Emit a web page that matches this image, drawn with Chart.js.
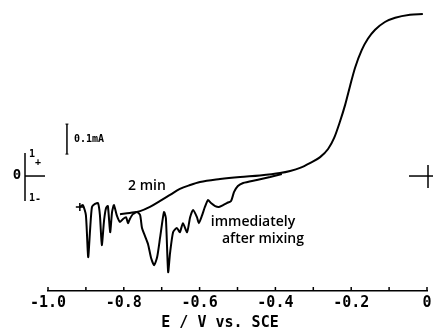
<!DOCTYPE html>
<html>
<head>
<meta charset="utf-8">
<script src="https://cdn.jsdelivr.net/npm/chart.js@4.4.0/dist/chart.umd.min.js"></script>
<style>
  html, body { margin: 0; padding: 0; background: #fff; }
  #cv { display: block; }
</style>
</head>
<body>
<canvas id="cv" width="435" height="334"></canvas>
<script>
// ==================================================
// DATOS - potencial (V vs. SCE) y corriente (mA)
// ==================================================
const e2min = [-0.810, -0.784, -0.757, -0.731, -0.704, -0.678, -0.652, -0.625, -0.599, -0.546,
               -0.493, -0.441, -0.388, -0.361, -0.335, -0.309, -0.282, -0.261, -0.245, -0.230,
               -0.216, -0.203, -0.190, -0.172, -0.156, -0.137, -0.111, -0.084, -0.045, -0.011];
const i2min = [-0.127, -0.123, -0.117, -0.103, -0.083, -0.063, -0.043, -0.030, -0.020, -0.010,
               -0.003, 0.002, 0.010, 0.017, 0.027, 0.043, 0.063, 0.090, 0.127, 0.180,
               0.237, 0.300, 0.360, 0.420, 0.457, 0.487, 0.513, 0.527, 0.537, 0.540];

const eMix = [-0.916, -0.908, -0.900, -0.894, -0.889, -0.884, -0.876, -0.868, -0.863, -0.858,
              -0.852, -0.847, -0.842, -0.836, -0.831, -0.826, -0.818, -0.810, -0.802, -0.794,
              -0.789, -0.784, -0.776, -0.765, -0.757, -0.752, -0.744, -0.736, -0.728, -0.720,
              -0.712, -0.704, -0.694, -0.689, -0.683, -0.678, -0.670, -0.660, -0.652, -0.644,
              -0.633, -0.625, -0.617, -0.607, -0.602, -0.594, -0.586, -0.578, -0.570, -0.559,
              -0.549, -0.538, -0.528, -0.517, -0.509, -0.499, -0.485, -0.449, -0.414, -0.383];
const iMix = [-0.103, -0.097, -0.130, -0.270, -0.180, -0.103, -0.093, -0.090, -0.130, -0.230,
              -0.147, -0.107, -0.100, -0.187, -0.120, -0.097, -0.133, -0.153, -0.143, -0.137,
              -0.157, -0.143, -0.127, -0.120, -0.130, -0.173, -0.200, -0.227, -0.273, -0.297,
              -0.270, -0.203, -0.120, -0.140, -0.320, -0.257, -0.187, -0.173, -0.187, -0.157,
              -0.187, -0.137, -0.113, -0.137, -0.157, -0.133, -0.103, -0.080, -0.090, -0.100,
              -0.103, -0.097, -0.090, -0.083, -0.053, -0.033, -0.023, -0.013, -0.003, 0.007];

// etiquetas del eje x (solo cada 0.2 V)
const xTickLabels = ['-1.0', '-0.8', '-0.6', '-0.4', '-0.2', '0'];

function toPoints(xs, ys) {
    return xs.map(function(x, i) { return { x: x, y: ys[i] }; });
}

// ==================================================
// PLUGIN - marcas, textos y escala
// ==================================================
const decorations = {
    id: 'decorations',
    afterDraw: function(chart) {
        const ctx = chart.ctx;
        const xs = chart.scales.x;
        const ys = chart.scales.y;
        const y0 = ys.getPixelForValue(0);

        function line(x1, y1, x2, y2, w) {
            ctx.lineWidth = w || 1.5;
            ctx.beginPath();
            ctx.moveTo(x1, y1);
            ctx.lineTo(x2, y2);
            ctx.stroke();
        }

        ctx.save();
        ctx.strokeStyle = '#000';
        ctx.fillStyle = '#000';

        // ticks hacia arriba
        xs.ticks.forEach(function(t) {
            const px = xs.getPixelForValue(t.value);
            line(px, xs.top, px, xs.top - 4, 1.5);
        });

        // marca del cero a la izquierda
        const lx = 25;
        line(lx, y0 - 23, lx, y0 + 25, 1.5);
        line(lx, y0, lx + 20, y0, 1.5);
        ctx.font = 'bold 14px "DejaVu Sans Mono"';
        ctx.textAlign = 'center';
        ctx.textBaseline = 'middle';
        ctx.fillText('0', 17, y0 - 1);
        ctx.font = 'bold 10px "DejaVu Sans Mono"';
        ctx.fillText('1', 32, y0 - 22);
        ctx.fillText('+', 38, y0 - 14);
        ctx.fillText('1', 32, y0 + 22);
        ctx.fillText('-', 38, y0 + 23);

        // cruz a la derecha
        const rx = xs.getPixelForValue(0);
        line(rx - 18, y0, rx + 6, y0, 1.5);
        line(rx + 1, y0 - 11, rx + 1, y0 + 12, 1.5);

        // barra de escala 0.1 mA
        const bx = xs.getPixelForValue(-0.95);
        const bTop = ys.getPixelForValue(0.173);
        const bBot = ys.getPixelForValue(0.073);
        line(bx, bTop, bx, bBot, 1.5);
        line(bx - 1.5, bTop, bx + 1.5, bTop, 1);
        line(bx - 1.5, bBot, bx + 1.5, bBot, 1);
        ctx.font = 'bold 10px "DejaVu Sans Mono"';
        ctx.textAlign = 'left';
        ctx.fillText('0.1mA', bx + 7, (bTop + bBot) / 2);

        // etiquetas de curvas
        ctx.font = '600 14px "Open Sans"';
        ctx.textAlign = 'center';
        ctx.fillText('2 min', 147, 186);
        ctx.fillText('immediately', 253, 222);
        ctx.fillText('after mixing', 263, 239);

        // titulo del eje
        ctx.font = 'bold 15px "DejaVu Sans Mono"';
        ctx.fillText('E / V vs. SCE', 220, 323);

        ctx.restore();
    }
};

// ==================================================
// GRAFICO
// ==================================================
new Chart(document.getElementById('cv').getContext('2d'), {
    type: 'scatter',
    data: {
        datasets: [
            {
                label: '2 min',
                data: toPoints(e2min, i2min),
                showLine: true,
                borderColor: '#000',
                borderWidth: 2,
                pointRadius: 0,
                cubicInterpolationMode: 'monotone'
            },
            {
                label: 'immediately after mixing',
                data: toPoints(eMix, iMix),
                showLine: true,
                borderColor: '#000',
                borderWidth: 2,
                tension: 0.2,
                pointStyle: 'cross',
                pointBorderWidth: 1.5,
                pointRadius: function(c) { return c.dataIndex === 0 ? 4 : 0; }
            }
        ]
    },
    options: {
        responsive: false,
        animation: false,
        layout: { padding: { left: 48, right: 8, top: 10, bottom: 0 } },
        plugins: {
            legend: { display: false },
            tooltip: { enabled: false }
        },
        scales: {
            x: {
                type: 'linear',
                min: -1.0,
                max: 0,
                afterFit: function(s) { s.height = 43; },
                border: { display: true, color: '#000', width: 1.5 },
                grid: { drawOnChartArea: false, drawTicks: false },
                ticks: {
                    stepSize: 0.1,
                    autoSkip: false,
                    maxRotation: 0,
                    padding: 3,
                    color: '#000',
                    font: { family: 'DejaVu Sans Mono', size: 15, weight: 'bold' },
                    callback: function(v) {
                        const k = Math.round(v * 10);
                        if (k % 2 !== 0) return '';
                        return xTickLabels[(k + 10) / 2];
                    }
                }
            },
            y: {
                display: false,
                min: -0.383,
                max: 0.553
            }
        }
    },
    plugins: [decorations]
});
</script>
</body>
</html>
